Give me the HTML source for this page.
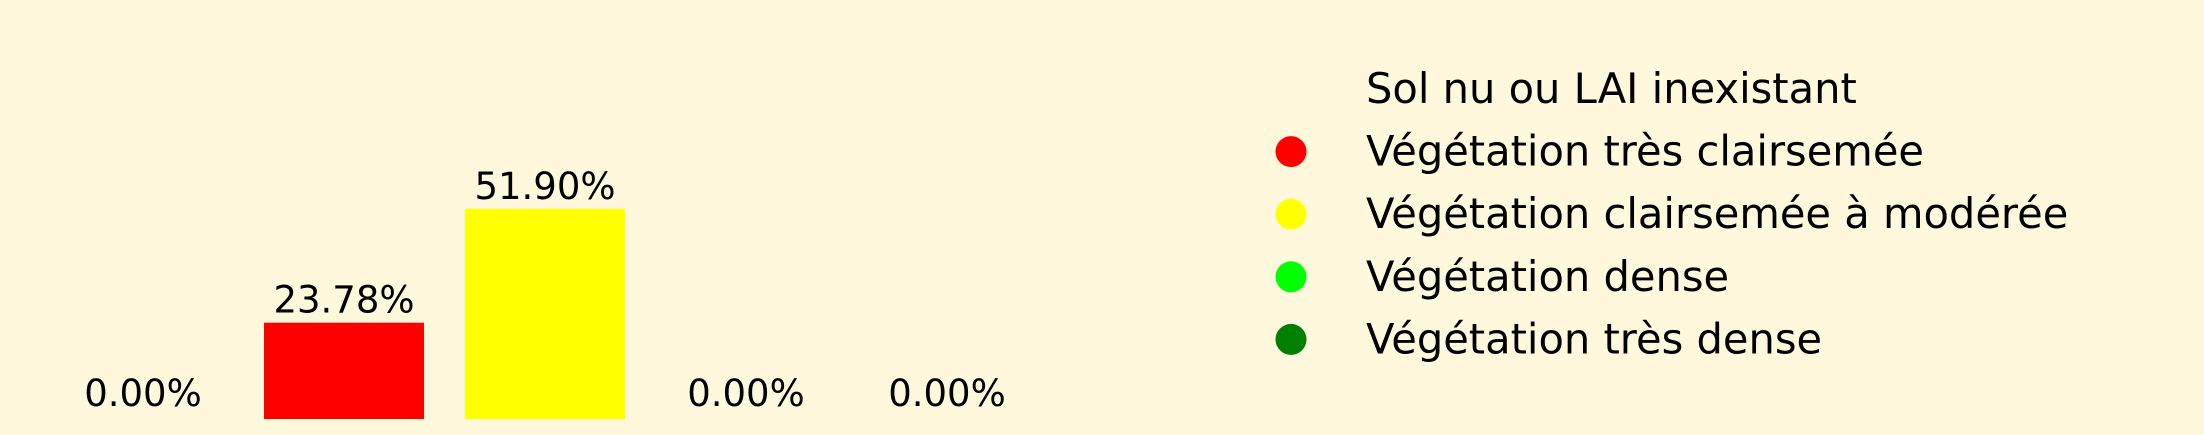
<!DOCTYPE html>
<html><head><meta charset="utf-8"><style>
html,body{margin:0;padding:0;background:#fff8dc;}
svg{display:block;font-family:"DejaVu Sans","Liberation Sans",sans-serif;}
</style></head><body>
<svg id="chart" width="2204" height="435" viewBox="0 0 2204 435" xmlns="http://www.w3.org/2000/svg">
<rect x="0" y="0" width="2204" height="435" fill="#fff8dc"/>
<g id="bars"></g>
<g id="legend"></g>
</svg>
<script>
const categories = ["Sol nu ou LAI inexistant","Végétation très clairsemée","Végétation clairsemée à modérée","Végétation dense","Végétation très dense"];
const values = [0.00, 23.78, 51.90, 0.00, 0.00];
const colors = ["#fff8dc","#ff0000","#ffff00","#00ff00","#008000"];
const valueLabels = ["0.00%","23.78%","51.90%","0.00%","0.00%"];

const NS = "http://www.w3.org/2000/svg";
const x0 = 143, step = 201, barW = 160, baseY = 419, pxPerUnit = 4.05;
const xScale = i => x0 + i * step;
const yScale = v => baseY - v * pxPerUnit;
const bars = document.getElementById('bars');
categories.forEach((c, i) => {
  const v = values[i];
  const r = document.createElementNS(NS, 'rect');
  
  
  r.setAttribute('x', xScale(i) - barW / 2);
  r.setAttribute('y', yScale(v));
  r.setAttribute('width', barW);
  r.setAttribute('height', baseY - yScale(v));
  r.setAttribute('fill', colors[i]);
  bars.appendChild(r);
  const t = document.createElementNS(NS, 'text');
  
  
  t.setAttribute('x', xScale(i));
  t.setAttribute('y', v > 0 ? yScale(v) - 10 : baseY - 13);
  t.setAttribute('text-anchor', 'middle');
  t.setAttribute('font-size', '37');
  t.setAttribute('fill', '#000');
  t.textContent = valueLabels[i];
  bars.appendChild(t);
});
const legend = document.getElementById('legend');
categories.forEach((c, i) => {
  const cy = 88 + i * 62.6;
  const m = document.createElementNS(NS, 'circle');
  
  
  m.setAttribute('cx', 1291);
  m.setAttribute('cy', cy + 1);
  m.setAttribute('r', 15.5);
  m.setAttribute('fill', colors[i]);
  legend.appendChild(m);
  const t = document.createElementNS(NS, 'text');
  
  
  t.setAttribute('x', 1366);
  t.setAttribute('y', cy + 15);
  t.setAttribute('font-size', '41.6');
  t.setAttribute('fill', '#000');
  t.textContent = c;
  legend.appendChild(t);
});
</script>
</body></html>
